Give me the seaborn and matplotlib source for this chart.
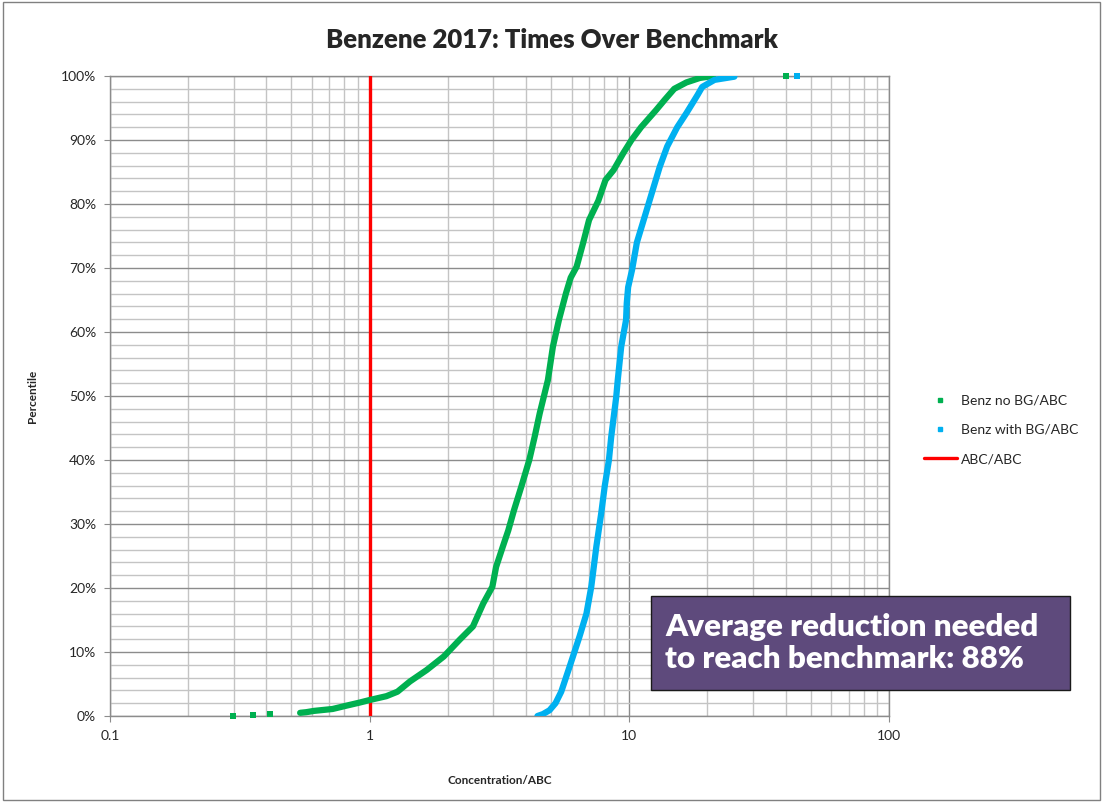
import matplotlib
matplotlib.use("Agg")
import matplotlib.pyplot as plt
import seaborn as sns
import pandas as pd
from matplotlib.lines import Line2D
from matplotlib.ticker import FixedLocator, NullFormatter

# ---------------- data ----------------
green_pct = [0.5, 0.6, 0.8, 1.1, 1.6, 2.1, 2.5, 3.1, 3.8, 5.4, 7.2, 9.3, 11.9, 14.0,
             17.6, 20.2, 23.3, 26.5, 29.0, 32.2, 36.0, 40.0, 43.6, 47.3, 52.5, 57.7,
             61.9, 66.0, 68.5, 70.2, 74.0, 77.5, 80.5, 83.75, 85.3, 88.0, 90.0, 92.0,
             94.7, 96.3, 98.0, 99.0, 99.7, 100.0]
green_x = [0.54, 0.57, 0.61, 0.72, 0.81, 0.915, 1.0, 1.16, 1.28, 1.43, 1.66, 1.93, 2.22, 2.50,
           2.74, 2.97, 3.07, 3.26, 3.42, 3.60, 3.85, 4.12, 4.32, 4.52, 4.86, 5.08,
           5.36, 5.70, 5.95, 6.27, 6.65, 7.0, 7.6, 8.1, 8.7, 9.5, 10.2, 11.1,
           12.7, 13.7, 14.9, 16.6, 18.7, 21.0]
green_tail_pct = [0.05, 0.15, 0.3, 100.0]
green_tail_x = [0.298, 0.355, 0.415, 40.0]

blue_pct = [0.0, 0.3, 0.9, 2.0, 3.8, 7.7, 12.4, 16.0, 20.2, 26.5, 31.7, 36.0, 40.0, 43.6,
            49.9, 52.5, 57.7, 61.9, 64.5, 67.0, 69.7, 74.0, 80.0, 85.8, 89.0, 92.0,
            94.2, 97.0, 98.3, 99.4, 99.9]
blue_x = [4.43, 4.65, 4.93, 5.2, 5.47, 5.89, 6.43, 6.84, 7.14, 7.47, 7.80, 8.05, 8.35, 8.52,
          8.91, 9.03, 9.31, 9.72, 9.78, 9.9, 10.25, 10.7, 11.86, 13.1, 14.0, 15.3,
          16.6, 18.3, 19.1, 21.3, 25.4]
blue_tail_pct = [100.0]
blue_tail_x = [44.1]

bench_x = [1.0, 1.0]
bench_pct = [0.0, 100.0]

series_names = ["Benz no BG/ABC", "Benz with BG/ABC", "ABC/ABC"]
title = "Benzene 2017: Times Over Benchmark"
note = "Average reduction needed\nto reach benchmark: 88%"

GREEN = "#00B050"
BLUE = "#00B0F0"
RED = "#FF0000"

# ---------------- figure ----------------
sns.set_style("white")
plt.rcParams["font.family"] = ["Lato", "DejaVu Sans"]

fig = plt.figure(figsize=(11.03, 8.02), dpi=100)
ax = fig.add_axes([0.0997, 0.1072, 0.7062, 0.798])

g_df = pd.DataFrame({"x": green_x, "p": green_pct})
b_df = pd.DataFrame({"x": blue_x, "p": blue_pct})
gt_df = pd.DataFrame({"x": green_tail_x, "p": green_tail_pct})
bt_df = pd.DataFrame({"x": blue_tail_x, "p": blue_tail_pct})
r_df = pd.DataFrame({"x": bench_x, "p": bench_pct})

sns.lineplot(data=g_df, x="x", y="p", sort=False, color=GREEN, linewidth=4.5,
             ax=ax, zorder=4, estimator=None)
sns.lineplot(data=b_df, x="x", y="p", sort=False, color=BLUE, linewidth=4.5,
             ax=ax, zorder=4, estimator=None)
sns.scatterplot(data=gt_df, x="x", y="p", color=GREEN, marker="s", s=14,
                linewidth=0, ax=ax, zorder=5, clip_on=False)
sns.scatterplot(data=bt_df, x="x", y="p", color=BLUE, marker="s", s=14,
                linewidth=0, ax=ax, zorder=5, clip_on=False)
sns.lineplot(data=r_df, x="x", y="p", color=RED, linewidth=2.4, ax=ax, zorder=3,
             estimator=None)

ax.set_xscale("log")
ax.set_xlim(0.1, 100)
ax.set_ylim(0, 100)

ax.set_xticks([0.1, 1, 10, 100])
ax.set_xticklabels(["0.1", "1", "10", "100"])
ax.xaxis.set_minor_locator(FixedLocator([m * d for d in (0.1, 1, 10) for m in range(2, 10)]))
ax.xaxis.set_minor_formatter(NullFormatter())
ax.set_yticks(range(0, 101, 10))
ax.set_yticklabels([f"{v}%" for v in range(0, 101, 10)])
ax.yaxis.set_minor_locator(FixedLocator([v for v in range(0, 101, 2) if v % 10]))

ax.grid(which="major", color="#8c8c8c", linewidth=1.0, zorder=0)
ax.grid(which="minor", color="#c4c4c4", linewidth=1.0, zorder=0)
ax.set_axisbelow(True)

for side in ax.spines.values():
    side.set_color("#8c8c8c")
    side.set_linewidth(1.0)

ax.tick_params(axis="both", which="major", direction="out", length=4, color="#8c8c8c",
               labelsize=10, pad=6, left=True, bottom=True)
ax.tick_params(axis="both", which="minor", length=0)

ax.set_xlabel("Concentration/ABC", fontsize=8.5, fontweight="bold")
ax.xaxis.set_label_coords(0.5, -0.092)
ax.set_ylabel("Percentile", fontsize=8.5, fontweight="bold")
ax.yaxis.set_label_coords(-0.092, 0.5)

fig.text(0.5, 0.95, title, ha="center", va="center", fontsize=18.5, fontweight="heavy")

# note box
fig.patches.append(plt.Rectangle((0.590, 0.1397), 0.380, 0.1172, transform=fig.transFigure,
                                 facecolor="#5E4A7C", edgecolor="#1a1a1a", linewidth=1.0,
                                 zorder=6))
fig.text(0.603, 0.1983, note, ha="left", va="center", fontsize=22.5, fontweight="heavy",
         color="white", linespacing=1.2, zorder=7)

# legend
handles = [
    Line2D([], [], linestyle="none", marker="s", markersize=3.5, color=GREEN),
    Line2D([], [], linestyle="none", marker="s", markersize=3.5, color=BLUE),
    Line2D([], [], color=RED, linewidth=2.4),
]
fig.legend(handles, series_names, loc="center left", bbox_to_anchor=(0.826, 0.464),
           frameon=False, fontsize=10, handlelength=2.4, handletextpad=0.3,
           labelspacing=1.25)

# outer chart border
fig.patches.append(plt.Rectangle((0.003, 0.002), 0.994, 0.996, transform=fig.transFigure,
                                 fill=False, edgecolor="#808080", linewidth=1.0))

fig.savefig("out.png", dpi=100)
